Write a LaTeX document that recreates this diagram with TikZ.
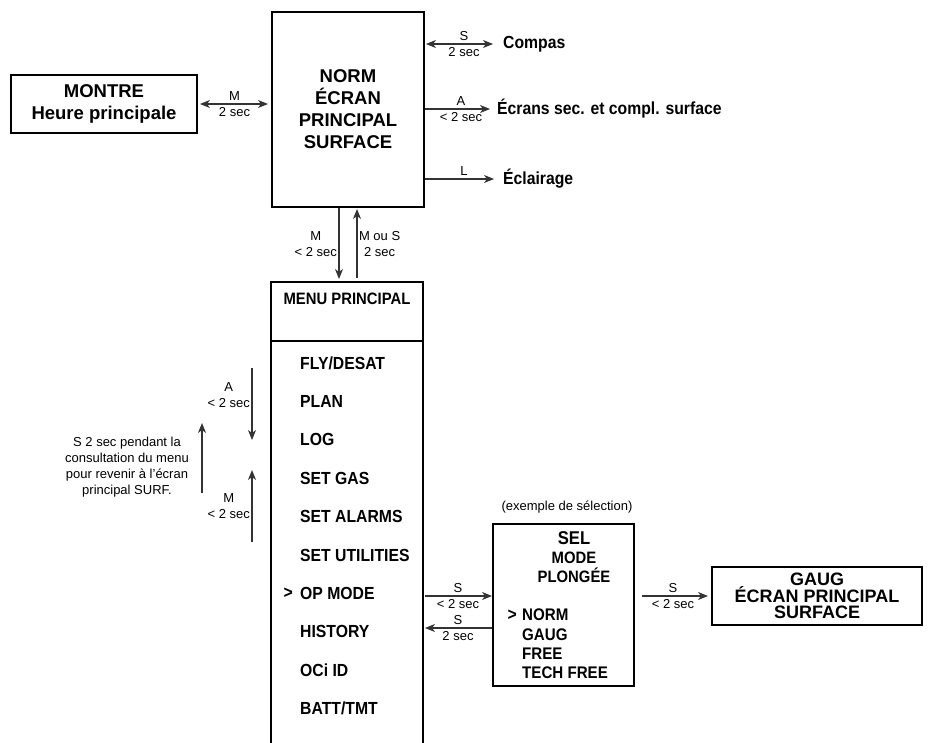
\documentclass[tikz,border=0pt]{standalone}
\usepackage{fontspec}
\setmainfont{Liberation Sans}
\newfontfamily\narrow[FakeStretch=0.9]{Liberation Sans}
\usetikzlibrary{arrows.meta,positioning}
\setlength{\lineskiplimit}{-20pt}
\begin{document}
\begin{tikzpicture}[x=1pt,y=-1pt,
	box/.style={draw,line width=2pt,inner sep=0pt,align=center},
	big/.style={font=\fontsize{18.5}{22}\selectfont\bfseries},
	item/.style={font=\fontsize{17.5}{21}\selectfont\narrow\bfseries,anchor=west,inner sep=0pt},
	lbl/.style={font=\fontsize{13}{16}\selectfont,inner sep=2.5pt,align=center},
	arr/.style={draw=black!80,line width=1.1pt,>={Stealth[length=10pt,width=8pt,inset=3pt]}}]
	\useasboundingbox (0,0) rectangle (942,742);
	\clip (0,0) rectangle (942,742);
	\node[box,big,minimum width=186pt,minimum height=58pt] (montre) at (104,104) {MONTRE\\Heure principale};
	\node[box,big,minimum width=152pt,minimum height=195pt] (norm) at (348,109.5) {NORM\\ÉCRAN\\PRINCIPAL\\SURFACE};
	\node[box,minimum width=152pt,minimum height=480pt] (menu) at (347,522) {};
	\draw[line width=2pt] (menu.west |- 0,341) -- (menu.east |- 0,341);
	\node[font=\fontsize{16.5}{20}\selectfont\narrow\bfseries] (menuhead) at (347,299) {MENU PRINCIPAL};
	\foreach \t [count=\i] in {FLY/DESAT,PLAN,LOG,SET GAS,SET ALARMS,SET UTILITIES,OP MODE,HISTORY,OCi ID,BATT/TMT}{
		\node[item] (m\i) at (300,{363+38.4*(\i-1)}) {\t};
	}
	\node[item,left=7pt of m7] (cur) {>};
	\node[item] (compas) at (503,44) {Compas};
	\node[item] (ecrans) at (497,109) {Écrans sec. et compl. surface};
	\node[item] (eclair) at (503,179) {Éclairage};
	\draw[arr,<->,shorten <=2pt,shorten >=3pt] (montre.east) -- node[lbl,above]{M} node[lbl,below]{2 sec} (montre.east -| norm.west);
	\draw[arr,<->,shorten <=1pt,shorten >=10pt] (compas.west -| norm.east) -- node[lbl,above]{S} node[lbl,below]{2 sec} (compas.west);
	\draw[arr,->,shorten >=7pt] (ecrans.west -| norm.east) -- node[lbl,above]{A} node[lbl,below]{< 2 sec} (ecrans.west);
	\draw[arr,->,shorten >=9pt] (eclair.west -| norm.east) -- node[lbl,above]{L} (eclair.west);
	\draw[arr,->,shorten >=2pt] (norm.south -| 339,0) -- node[lbl,left,inner sep=1.5pt]{M\\< 2 sec} (menu.north -| 339,0);
	\draw[arr,->,shorten <=3pt,shorten >=1pt] (menu.north -| 357,0) -- node[lbl,right,inner sep=1.5pt]{M ou S\\2 sec} (norm.south -| 357,0);
	\coordinate (a1) at (252,368);
	\coordinate (a2) at (252,440);
	\coordinate (b1) at (252,542);
	\coordinate (b2) at (252,470);
	\coordinate (c1) at (202,493);
	\coordinate (c2) at (202,423);
	\draw[arr,->] (a1) -- node[lbl,left,inner sep=1.5pt,pos=0.38]{A\\< 2 sec} (a2);
	\draw[arr,->] (b1) -- node[lbl,left,inner sep=1.5pt]{M\\< 2 sec} (b2);
	\draw[arr,->] (c1) -- (c2);
	\node[lbl] (note) at (127,467) {S 2 sec pendant la\\consultation du menu\\pour revenir à l'écran\\principal SURF.};
	\node[box,minimum width=141pt,minimum height=162pt] (sel) at (563.5,605) {};
	\node[lbl] (exemple) at (567,507) {(exemple de sélection)};
	\node[font=\fontsize{18.5}{20}\selectfont\narrow\bfseries] (seltitle) at (574,538) {SEL};
	\node[font=\fontsize{16.5}{19.5}\selectfont\narrow\bfseries,align=center] (selmode) at (574,567.5) {MODE\\PLONGÉE};
	\foreach \t [count=\i] in {NORM,GAUG,FREE,TECH FREE}{
		\node[item,font=\fontsize{16.8}{19}\selectfont\narrow\bfseries] (s\i) at (522,{615+19.3*(\i-1)}) {\t};
	}
	\node[item,left=5pt of s1] (selcur) {>};
	\node[box,minimum width=210pt,minimum height=58pt,font=\fontsize{18}{16.5}\selectfont\bfseries] (gaug) at (817,596) {GAUG\\ÉCRAN PRINCIPAL\\SURFACE};
	\draw[arr,->,shorten <=1pt] (menu.east |- 0,596) -- node[lbl,above]{S} node[lbl,below]{< 2 sec} (sel.west |- 0,596);
	\draw[arr,->,shorten >=1pt] (sel.west |- 0,628) -- node[lbl,above]{S} node[lbl,below]{2 sec} (menu.east |- 0,628);
	\draw[arr,->,shorten <=7pt,shorten >=3pt] (sel.east |- gaug.west) -- node[lbl,above]{S} node[lbl,below]{< 2 sec} (gaug.west);
\end{tikzpicture}
\end{document}
